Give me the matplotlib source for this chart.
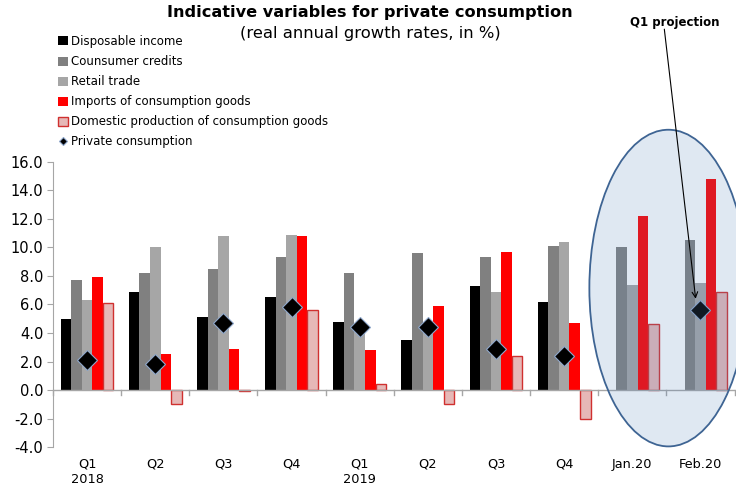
import numpy as np
import matplotlib.pyplot as plt
from matplotlib.patches import Ellipse

# ── Data ──────────────────────────────────────────────────────
periods = ['Q1', 'Q2', 'Q3', 'Q4', 'Q1', 'Q2', 'Q3', 'Q4', 'Jan.20', 'Feb.20']
years   = {0: '2018', 4: '2019'}

disposable = [5.0, 6.9, 5.1, 6.5, 4.8, 3.5, 7.3, 6.2, np.nan, np.nan]
credits    = [7.7, 8.2, 8.5, 9.3, 8.2, 9.6, 9.3, 10.1, 10.0, 10.5]
retail     = [6.3, 10.0, 10.8, 10.9, 4.3, 4.2, 6.9, 10.4, 7.4, 7.5]
imports    = [7.9, 2.5, 2.9, 10.8, 2.8, 5.9, 9.7, 4.7, 12.2, 14.8]
domestic   = [6.1, -1.0, -0.1, 5.6, 0.4, -1.0, 2.4, -2.0, 4.6, 6.9]
private    = [2.1, 1.8, 4.7, 5.8, 4.4, 4.4, 2.9, 2.4, np.nan, 5.6]

# ── Style ─────────────────────────────────────────────────────
BLACK = '#000000'; DGRAY = '#808080'; LGRAY = '#a6a6a6'
RED   = '#ff0000'; PINK  = '#e6b8b7'; PINK_EDGE = '#d0302f'
AXIS  = '#a6a6a6'

plt.rcParams['font.family'] = ['DejaVu Sans']

fig = plt.figure(figsize=(7.36, 4.86), dpi=100)
ax = fig.add_axes([0.072, 0.080, 0.926, 0.587])

x = np.arange(len(periods))
w = 0.155
series = [
    (disposable, BLACK, None, 'Disposable income'),
    (credits,    DGRAY, None, 'Counsumer credits'),
    (retail,     LGRAY, None, 'Retail trade'),
    (imports,    RED,   None, 'Imports of consumption goods'),
    (domestic,   PINK,  PINK_EDGE, 'Domestic production of consumption goods'),
]
handles = []
for k, (vals, col, edge, lbl) in enumerate(series):
    h = ax.bar(x + (k - 2) * w, vals, width=w, color=col,
               edgecolor=edge if edge else 'none', linewidth=1.0 if edge else 0,
               label=lbl, zorder=2)
    handles.append(h)

hp, = ax.plot(x, private, ls='none', marker='D', markersize=10.5,
              markerfacecolor=BLACK, markeredgecolor='#8fa8cc', markeredgewidth=0.8,
              label='Private consumption', zorder=4)
handles.append(hp)

# projection ellipse, drawn on top with a faint blue tint
ell = Ellipse((8.53, 7.15), width=2.32, height=22.2, facecolor='#5686be',
              alpha=0.19, edgecolor='none', zorder=5, clip_on=False)
ax.add_patch(ell)
ell_edge = Ellipse((8.53, 7.15), width=2.32, height=22.2, facecolor='none',
                   edgecolor='#3e6493', linewidth=1.3, zorder=6, clip_on=False)
ax.add_patch(ell_edge)

# axes
ax.set_xlim(-0.5, 9.5)
ax.set_ylim(-4, 16)
ax.set_yticks(np.arange(-4, 17, 2))
ax.set_yticklabels([f'{v:.1f}' for v in np.arange(-4, 17, 2)], fontsize=10.5)
ax.tick_params(axis='y', length=4, color=AXIS, pad=3)
ax.set_xticks([])
for s in ['top', 'right', 'bottom']:
    ax.spines[s].set_visible(False)
ax.spines['left'].set_color(AXIS)
ax.axhline(0, color=AXIS, lw=1.0, zorder=3)
for b in np.arange(-0.5, 10.0, 1.0):
    ax.plot([b, b], [0, -0.35], color=AXIS, lw=1.0, zorder=3, clip_on=False)

for i, p in enumerate(periods):
    ax.text(i, -5.2, p, ha='center', va='center', fontsize=9.3)
for i, yr in years.items():
    ax.text(i, -6.25, yr, ha='center', va='center', fontsize=9.3)

# legend
leg = fig.legend(handles=handles, loc='upper left', bbox_to_anchor=(0.071, 0.94),
                 frameon=False, fontsize=8.5, handlelength=0.8, handleheight=0.8,
                 handletextpad=0.25, labelspacing=0.6, borderpad=0)
leg.legend_handles[-1].set_markersize(4)

# titles
fig.text(0.503, 0.974, 'Indicative variables for private consumption',
         ha='center', va='center', fontsize=11.6, fontweight='bold')
fig.text(0.503, 0.931, '(real annual growth rates, in %)',
         ha='center', va='center', fontsize=11.8)

# Q1 projection annotation
ax.text(8.62, 25.8, 'Q1 projection', ha='center', va='center',
        fontsize=8.5, fontweight='bold', clip_on=False, zorder=7)
ax.annotate('', xy=(8.93, 6.4), xytext=(8.47, 25.3),
            arrowprops=dict(arrowstyle='->', color=BLACK, lw=0.8,
                            shrinkA=0, shrinkB=0),
            annotation_clip=False, zorder=7)

fig.savefig('out.png', dpi=100)
